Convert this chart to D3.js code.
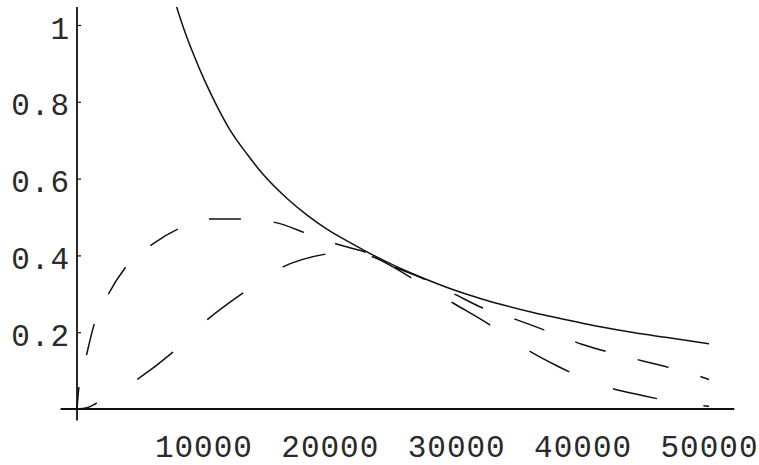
<!DOCTYPE html>
<html>
<head>
<meta charset="utf-8">
<script src="https://cdn.jsdelivr.net/npm/d3@7"></script>
<style>
	html, body { margin: 0; padding: 0; background: #fff; }
	svg { display: block; }
	.tick text { font-family: "Liberation Mono", "DejaVu Sans Mono", monospace; font-size: 31px; fill: #2a2a2a; letter-spacing: 1px; }
</style>
</head>
<body>
<svg id="main-svg" width="759" height="465"></svg>
<script>

	// values
	var xTickValues = [ 10000, 20000, 30000, 40000, 50000 ],
		xTickLabels = [ '10000', '20000', '30000', '40000', '50000' ],
		yTickValues = [ 0.2, 0.4, 0.6, 0.8, 1 ],
		yTickLabels = [ '0.2', '0.4', '0.6', '0.8', '1' ];

	var solidX = [ 7850, 8400, 9200, 10100, 11100, 12100, 13450, 14700, 16600, 18200, 19800, 21400, 22900, 24500, 26000, 27900, 29500, 31900, 33500, 36000, 38800, 41400, 44000, 46700, 50000 ],
		solidY = [ 1.05, 0.995, 0.925, 0.855, 0.787, 0.727, 0.664, 0.612, 0.549, 0.505, 0.468, 0.437, 0.41, 0.383, 0.36, 0.334, 0.314, 0.288, 0.273, 0.252, 0.232, 0.214, 0.199, 0.186, 0.17 ];

	var longDashX = [ 0, 150, 712, 1345, 2450, 3800, 6010, 8150, 10600, 13290, 15900, 18280, 20800, 22940, 25000, 27500, 30000, 32100, 34650, 37200, 40000, 43000, 46000, 48000, 50000 ],
		longDashY = [ 0, 0.057, 0.135, 0.219, 0.297, 0.367, 0.43, 0.471, 0.495, 0.495, 0.484, 0.456, 0.427, 0.407, 0.372, 0.338, 0.297, 0.263, 0.234, 0.203, 0.168, 0.14, 0.115, 0.098, 0.077 ];

	var shortDashX = [ 0, 800, 1580, 4670, 7520, 10360, 13130, 16300, 19780, 21500, 23500, 25000, 27000, 29750, 32900, 34650, 38000, 41200, 44900, 48300, 50000 ],
		shortDashY = [ 0, 0.003, 0.016, 0.075, 0.146, 0.234, 0.302, 0.37, 0.404, 0.41, 0.395, 0.37, 0.33, 0.276, 0.214, 0.174, 0.112, 0.065, 0.034, 0.013, 0.007 ];

	var xAxisExtent = [ -1300, 52000 ],
		yAxisExtent = [ -0.03, 1.047 ];

	var svg = d3.select( 'svg#main-svg' ),
		x = d3.scaleLinear().domain( [ 0, 50000 ] ).range( [ 77, 709 ] ),
		y = d3.scaleLinear().domain( [ 0, 1 ] ).range( [ 409, 25 ] );

	function zipPoints( xs, ys ) {
		return xs.map( function( v, i ) { return [ v, ys[ i ] ]; } );
	}

	var line = d3.line()
		.x( function( d ) { return x( d[ 0 ] ); } )
		.y( function( d ) { return y( d[ 1 ] ); } )
		.curve( d3.curveMonotoneX );

	svg.append( 'clipPath' ).attr( 'id', 'plot-clip' )
		.append( 'rect' )
		.attr( 'x', x( 0 ) - 2 )
		.attr( 'y', y( yAxisExtent[ 1 ] ) )
		.attr( 'width', x( 50000 ) - x( 0 ) + 4 )
		.attr( 'height', y( 0 ) - y( yAxisExtent[ 1 ] ) + 2 );

	// axes
	svg.append( 'line' )
		.attr( 'x1', x( xAxisExtent[ 0 ] ) ).attr( 'x2', x( xAxisExtent[ 1 ] ) )
		.attr( 'y1', y( 0 ) ).attr( 'y2', y( 0 ) )
		.attr( 'stroke', '#111' ).attr( 'stroke-width', 1.8 );

	svg.append( 'line' )
		.attr( 'x1', x( 0 ) ).attr( 'x2', x( 0 ) )
		.attr( 'y1', y( yAxisExtent[ 0 ] ) ).attr( 'y2', y( yAxisExtent[ 1 ] ) )
		.attr( 'stroke', '#111' ).attr( 'stroke-width', 1.8 );

	var yAxis = svg.append( 'g' )
		.attr( 'transform', 'translate(' + x( 0 ) + ',0)' )
		.call( d3.axisLeft( y )
			.tickValues( yTickValues )
			.tickFormat( function( d, i ) { return yTickLabels[ i ]; } )
			.tickSizeInner( -4 )
			.tickSizeOuter( 0 )
			.tickPadding( 7 ) );
	yAxis.select( '.domain' ).remove();
	yAxis.selectAll( '.tick line' ).attr( 'stroke', '#111' ).attr( 'stroke-width', 1.2 );
	yAxis.selectAll( '.tick text' ).attr( 'dy', '0.42em' );

	var xAxis = svg.append( 'g' )
		.attr( 'transform', 'translate(0,' + y( 0 ) + ')' )
		.call( d3.axisBottom( x )
			.tickValues( xTickValues )
			.tickFormat( function( d, i ) { return xTickLabels[ i ]; } )
			.tickSize( 0 ) );
	xAxis.select( '.domain' ).remove();
	xAxis.selectAll( '.tick text' ).attr( 'y', 48 ).attr( 'dy', 0 );

	// curves
	var plot = svg.append( 'g' ).attr( 'clip-path', 'url(#plot-clip)' );

	plot.append( 'path' )
		.attr( 'd', line( zipPoints( solidX, solidY ) ) )
		.attr( 'fill', 'none' ).attr( 'stroke', '#111' ).attr( 'stroke-width', 1.5 );

	plot.append( 'path' )
		.attr( 'd', line( zipPoints( longDashX, longDashY ) ) )
		.attr( 'fill', 'none' ).attr( 'stroke', '#111' ).attr( 'stroke-width', 1.5 )
		.attr( 'stroke-dasharray', '32,33' ).attr( 'stroke-dashoffset', 10 );

	plot.append( 'path' )
		.attr( 'd', line( zipPoints( shortDashX, shortDashY ) ) )
		.attr( 'fill', 'none' ).attr( 'stroke', '#111' ).attr( 'stroke-width', 1.5 )
		.attr( 'stroke-dasharray', '45,47' ).attr( 'stroke-dashoffset', 24 );

</script>
</body>
</html>
